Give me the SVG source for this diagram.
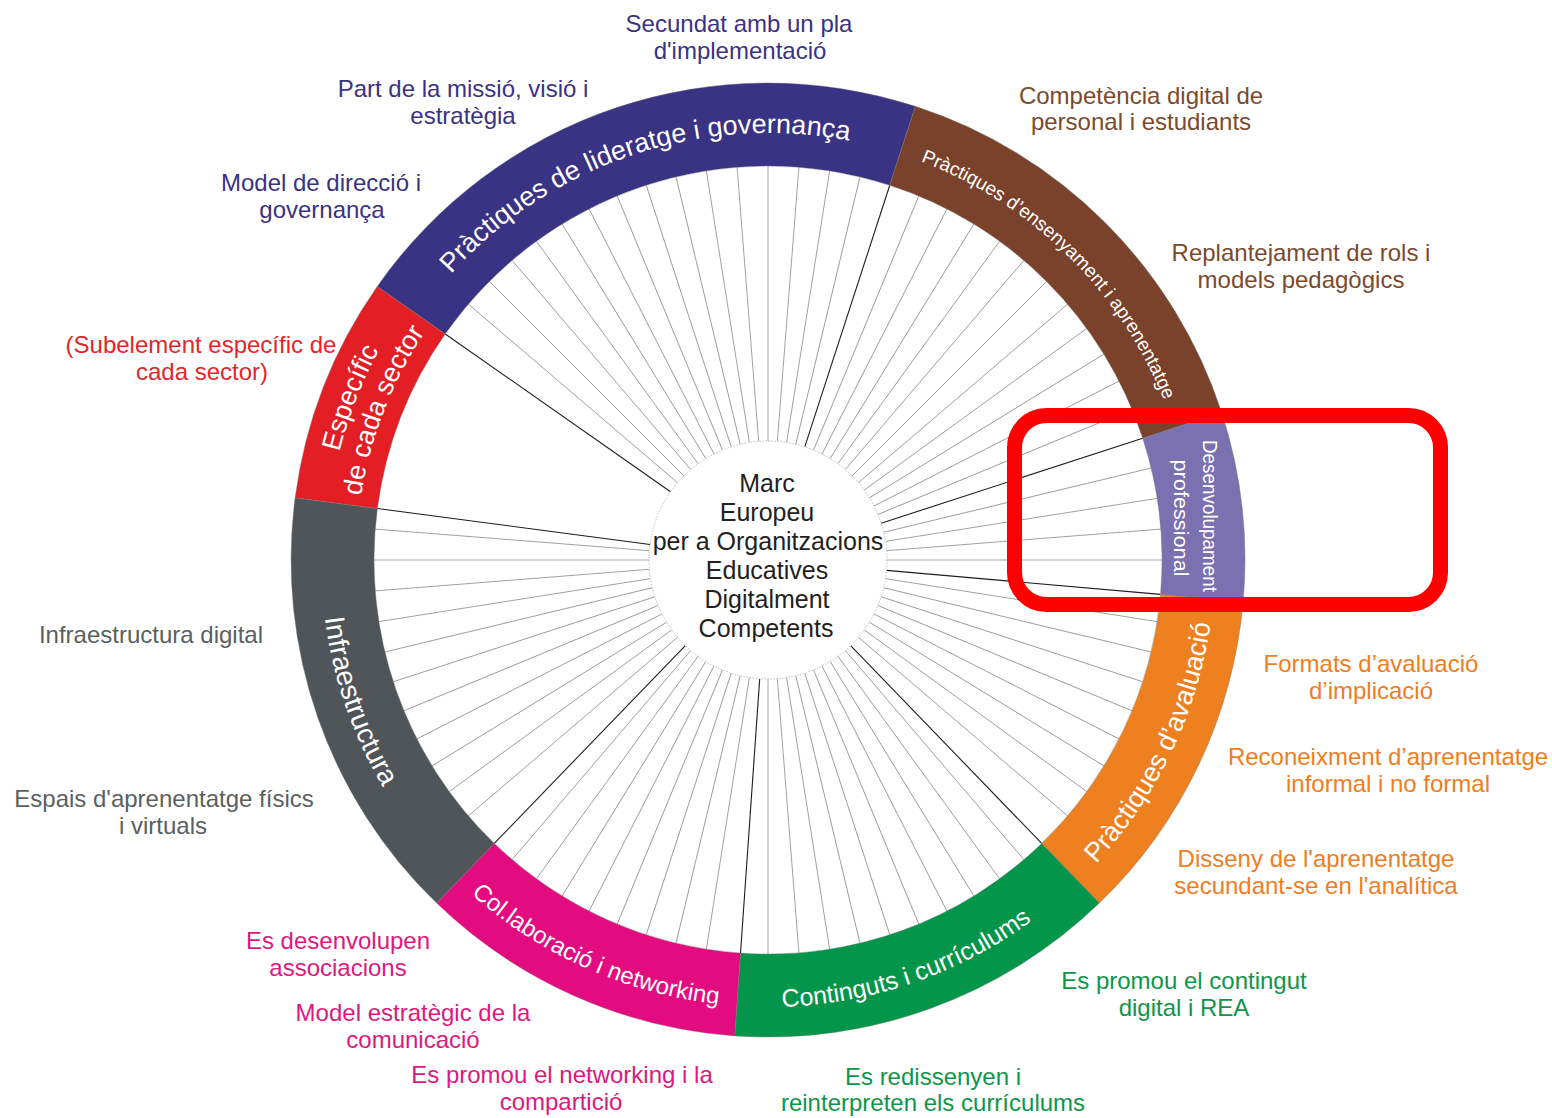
<svg xmlns="http://www.w3.org/2000/svg" width="1552" height="1118" viewBox="0 0 1552 1118">
<style>
  text { font-family: "Liberation Sans", Arial, Helvetica, sans-serif; }
  .lbl { font-size: 24px; text-anchor: middle; }
  .ring { fill: #ffffff; text-anchor: middle; }
  .seg { stroke: #777777; stroke-width: 0.4; }
  .t-blue { fill: #3a3283; }
  .t-brown { fill: #7b4a2d; }
  .t-red { fill: #e3262b; }
  .t-gray { fill: #5a5f62; }
  .t-orange { fill: #ef7d22; }
  .t-green { fill: #0f9548; }
  .t-pink { fill: #e0177f; }
  .sp { stroke: #8f8f8f; stroke-width: 0.8; }
  .bd { stroke: #1c1c1c; stroke-width: 1.1; }
</style>
<defs>
  <line id="sp" x1="119" y1="0" x2="394" y2="0"/>
  <path id="arc-blue" d="M-397.3,-156.5 A427,427 0 0,1 223.1,-364.1"/>
  <path id="arc-brown" d="M-114.1,-411.5 A427,427 0 0,1 413.4,106.9"/>
  <path id="arc-red-out" d="M-387.5,212.6 A442,442 0 0,1 -142.1,-418.5"/>
  <path id="arc-red-in" d="M-361.2,198.1 A412,412 0 0,1 -132.4,-390.1"/>
  <path id="arc-orange" d="M35.1,445.6 A447,447 0 0,0 368.4,-253.2"/>
  <path id="arc-green" d="M-293.3,337.4 A447,447 0 0,0 438.8,85.3"/>
  <path id="arc-pink" d="M-444.5,46.7 A447,447 0 0,0 262.7,361.6"/>
  <path id="arc-gray" d="M-337.4,-293.3 A447,447 0 0,0 -85.3,438.8"/>
</defs>
<rect width="1552" height="1118" fill="#ffffff"/>

<g id="connectors" transform="translate(768,560)">
  <g class="sp">
    <use href="#sp" transform="rotate(9)"/><use href="#sp" transform="rotate(13.5)"/><use href="#sp" transform="rotate(18)"/><use href="#sp" transform="rotate(22.5)"/>
    <use href="#sp" transform="rotate(27)"/><use href="#sp" transform="rotate(31.5)"/><use href="#sp" transform="rotate(36)"/><use href="#sp" transform="rotate(40.5)"/>
    <use href="#sp" transform="rotate(49.5)"/><use href="#sp" transform="rotate(54)"/><use href="#sp" transform="rotate(58.5)"/><use href="#sp" transform="rotate(63)"/>
    <use href="#sp" transform="rotate(67.5)"/><use href="#sp" transform="rotate(72)"/><use href="#sp" transform="rotate(76.5)"/><use href="#sp" transform="rotate(81)"/>
    <use href="#sp" transform="rotate(85.5)"/><use href="#sp" transform="rotate(90)"/>
    <use href="#sp" transform="rotate(99)"/><use href="#sp" transform="rotate(103.5)"/><use href="#sp" transform="rotate(108)"/><use href="#sp" transform="rotate(112.5)"/>
    <use href="#sp" transform="rotate(117)"/><use href="#sp" transform="rotate(121.5)"/><use href="#sp" transform="rotate(126)"/><use href="#sp" transform="rotate(130.5)"/>
    <use href="#sp" transform="rotate(139.5)"/><use href="#sp" transform="rotate(144)"/><use href="#sp" transform="rotate(148.5)"/><use href="#sp" transform="rotate(153)"/>
    <use href="#sp" transform="rotate(157.5)"/><use href="#sp" transform="rotate(162)"/><use href="#sp" transform="rotate(166.5)"/><use href="#sp" transform="rotate(171)"/>
    <use href="#sp" transform="rotate(175.5)"/><use href="#sp" transform="rotate(180)"/><use href="#sp" transform="rotate(184.5)"/>
    <use href="#sp" transform="rotate(220.5)"/><use href="#sp" transform="rotate(225)"/><use href="#sp" transform="rotate(229.5)"/><use href="#sp" transform="rotate(234)"/>
    <use href="#sp" transform="rotate(238.5)"/><use href="#sp" transform="rotate(243)"/><use href="#sp" transform="rotate(247.5)"/><use href="#sp" transform="rotate(252)"/>
    <use href="#sp" transform="rotate(256.5)"/><use href="#sp" transform="rotate(261)"/><use href="#sp" transform="rotate(265.5)"/><use href="#sp" transform="rotate(270)"/>
    <use href="#sp" transform="rotate(274.5)"/><use href="#sp" transform="rotate(279)"/><use href="#sp" transform="rotate(283.5)"/>
    <use href="#sp" transform="rotate(292.5)"/><use href="#sp" transform="rotate(297)"/><use href="#sp" transform="rotate(301.5)"/><use href="#sp" transform="rotate(306)"/>
    <use href="#sp" transform="rotate(310.5)"/><use href="#sp" transform="rotate(315)"/><use href="#sp" transform="rotate(319.5)"/><use href="#sp" transform="rotate(324)"/>
    <use href="#sp" transform="rotate(328.5)"/><use href="#sp" transform="rotate(333)"/><use href="#sp" transform="rotate(337.5)"/>
    <use href="#sp" transform="rotate(346.5)"/><use href="#sp" transform="rotate(351)"/><use href="#sp" transform="rotate(355.5)"/><use href="#sp" transform="rotate(0)"/>
  </g>
  <g class="bd">
    <use href="#sp" transform="rotate(-72)"/><use href="#sp" transform="rotate(-18)"/><use href="#sp" transform="rotate(5)"/><use href="#sp" transform="rotate(46)"/>
    <use href="#sp" transform="rotate(94)"/><use href="#sp" transform="rotate(134)"/><use href="#sp" transform="rotate(187.5)"/><use href="#sp" transform="rotate(215)"/>
  </g>
</g>

<g id="node-center">
  <circle cx="768" cy="560" r="119" fill="#ffffff" stroke="#bdbdbd" stroke-width="1" stroke-dasharray="1.5 1.5"/>
  <g font-size="25" fill="#231f20" text-anchor="middle">
    <text x="767" y="492">Marc</text>
    <text x="767" y="521">Europeu</text>
    <text x="768" y="550">per a Organitzacions</text>
    <text x="767" y="579">Educatives</text>
    <text x="767" y="608">Digitalment</text>
    <text x="766" y="637">Competents</text>
  </g>
</g>

<g id="node-lideratge">
  <g transform="translate(768,560)">
    <path class="seg" fill="#3a3283" d="M-390.8,-273.6 A477,477 0 0,1 147.4,-453.7 L121.7,-374.7 A394,394 0 0,0 -322.8,-226.0 Z"/>
    <text class="ring" font-size="27"><textPath href="#arc-blue" startOffset="50%">Pràctiques de lideratge i governança</textPath></text>
  </g>
  <text class="lbl t-blue" x="739" y="32">Secundat amb un pla</text>
  <text class="lbl t-blue" x="740" y="59">d'implementació</text>
  <text class="lbl t-blue" x="463" y="97">Part de la missió, visió i</text>
  <text class="lbl t-blue" x="463" y="124">estratègia</text>
  <text class="lbl t-blue" x="321" y="191">Model de direcció i</text>
  <text class="lbl t-blue" x="322" y="218">governança</text>
</g>

<g id="node-ensenyament">
  <g transform="translate(768,560)">
    <path class="seg" fill="#7b422b" d="M147.4,-453.7 A477,477 0 0,1 453.7,-147.4 L374.7,-121.7 A394,394 0 0,0 121.7,-374.7 Z"/>
    <text class="ring" font-size="19"><textPath href="#arc-brown" startOffset="50%">Pràctiques d’ensenyament i aprenentatge</textPath></text>
  </g>
  <text class="lbl t-brown" x="1141" y="104">Competència digital de</text>
  <text class="lbl t-brown" x="1141" y="130">personal i estudiants</text>
  <text class="lbl t-brown" x="1301" y="261">Replantejament de rols i</text>
  <text class="lbl t-brown" x="1301" y="288">models pedagògics</text>
</g>

<g id="node-desenvolupament">
  <g transform="translate(768,560)">
    <path class="seg" fill="#7b70b0" d="M453.7,-147.4 A477,477 0 0,1 475.2,41.6 L392.5,34.4 A394,394 0 0,0 374.7,-121.7 Z"/>
  </g>
  <text class="ring" font-size="20" textLength="152" lengthAdjust="spacingAndGlyphs" transform="translate(1203,516) rotate(90)">Desenvolupament</text>
  <text class="ring" font-size="20" textLength="117" lengthAdjust="spacingAndGlyphs" transform="translate(1174,518) rotate(90)">professional</text>
</g>

<g id="node-avaluacio">
  <g transform="translate(768,560)">
    <path class="seg" fill="#ee801f" d="M475.2,41.6 A477,477 0 0,1 331.4,343.1 L273.7,283.4 A394,394 0 0,0 392.5,34.4 Z"/>
    <text class="ring" font-size="27"><textPath href="#arc-orange" startOffset="50%">Pràctiques d’avaluació</textPath></text>
  </g>
  <text class="lbl t-orange" x="1371" y="672">Formats d’avaluació</text>
  <text class="lbl t-orange" x="1371" y="699">d’implicació</text>
  <text class="lbl t-orange" x="1388" y="765">Reconeixment d’aprenentatge</text>
  <text class="lbl t-orange" x="1388" y="792">informal i no formal</text>
  <text class="lbl t-orange" x="1316" y="867">Disseny de l'aprenentatge</text>
  <text class="lbl t-orange" x="1316" y="894">secundant-se en l'analítica</text>
</g>

<g id="node-continguts">
  <g transform="translate(768,560)">
    <path class="seg" fill="#03964a" d="M331.4,343.1 A477,477 0 0,1 -33.3,475.9 L-27.5,393.1 A394,394 0 0,0 273.7,283.4 Z"/>
    <text class="ring" font-size="25"><textPath href="#arc-green" startOffset="50%">Continguts i currículums</textPath></text>
  </g>
  <text class="lbl t-green" x="1184" y="989">Es promou el contingut</text>
  <text class="lbl t-green" x="1184" y="1016">digital i REA</text>
  <text class="lbl t-green" x="933" y="1085">Es redissenyen i</text>
  <text class="lbl t-green" x="933" y="1111">reinterpreten els currículums</text>
</g>

<g id="node-collaboracio">
  <g transform="translate(768,560)">
    <path class="seg" fill="#e20c80" d="M-33.3,475.9 A477,477 0 0,1 -331.4,343.1 L-273.7,283.4 A394,394 0 0,0 -27.5,393.1 Z"/>
    <text class="ring" font-size="24"><textPath href="#arc-pink" startOffset="50%">Col.laboració i networking</textPath></text>
  </g>
  <text class="lbl t-pink" x="338" y="949">Es desenvolupen</text>
  <text class="lbl t-pink" x="338" y="976">associacions</text>
  <text class="lbl t-pink" x="413" y="1021">Model estratègic de la</text>
  <text class="lbl t-pink" x="413" y="1048">comunicació</text>
  <text class="lbl t-pink" x="562" y="1083">Es promou el networking i la</text>
  <text class="lbl t-pink" x="561" y="1110">compartició</text>
</g>

<g id="node-infraestructura">
  <g transform="translate(768,560)">
    <path class="seg" fill="#4f5559" d="M-331.4,343.1 A477,477 0 0,1 -472.9,-62.2 L-390.6,-51.4 A394,394 0 0,0 -273.7,283.4 Z"/>
    <text class="ring" font-size="28"><textPath href="#arc-gray" startOffset="50%">Infraestructura</textPath></text>
  </g>
  <text class="lbl t-gray" x="151" y="643">Infraestructura digital</text>
  <text class="lbl t-gray" x="164" y="807">Espais d'aprenentatge físics</text>
  <text class="lbl t-gray" x="163" y="834">i virtuals</text>
</g>

<g id="node-especific">
  <g transform="translate(768,560)">
    <path class="seg" fill="#e31e25" d="M-472.9,-62.2 A477,477 0 0,1 -390.8,-273.6 L-322.8,-226.0 A394,394 0 0,0 -390.6,-51.4 Z"/>
    <text class="ring" font-size="27"><textPath href="#arc-red-out" startOffset="50%">Específic</textPath></text>
    <text class="ring" font-size="27"><textPath href="#arc-red-in" startOffset="50%">de cada sector</textPath></text>
  </g>
  <text class="lbl t-red" x="201" y="353">(Subelement específic de</text>
  <text class="lbl t-red" x="202" y="380">cada sector)</text>
</g>

<g id="highlight">
  <rect x="1014.5" y="415.5" width="426" height="189" rx="32" ry="32" fill="none" stroke="#ff0000" stroke-width="15"/>
</g>
</svg>
